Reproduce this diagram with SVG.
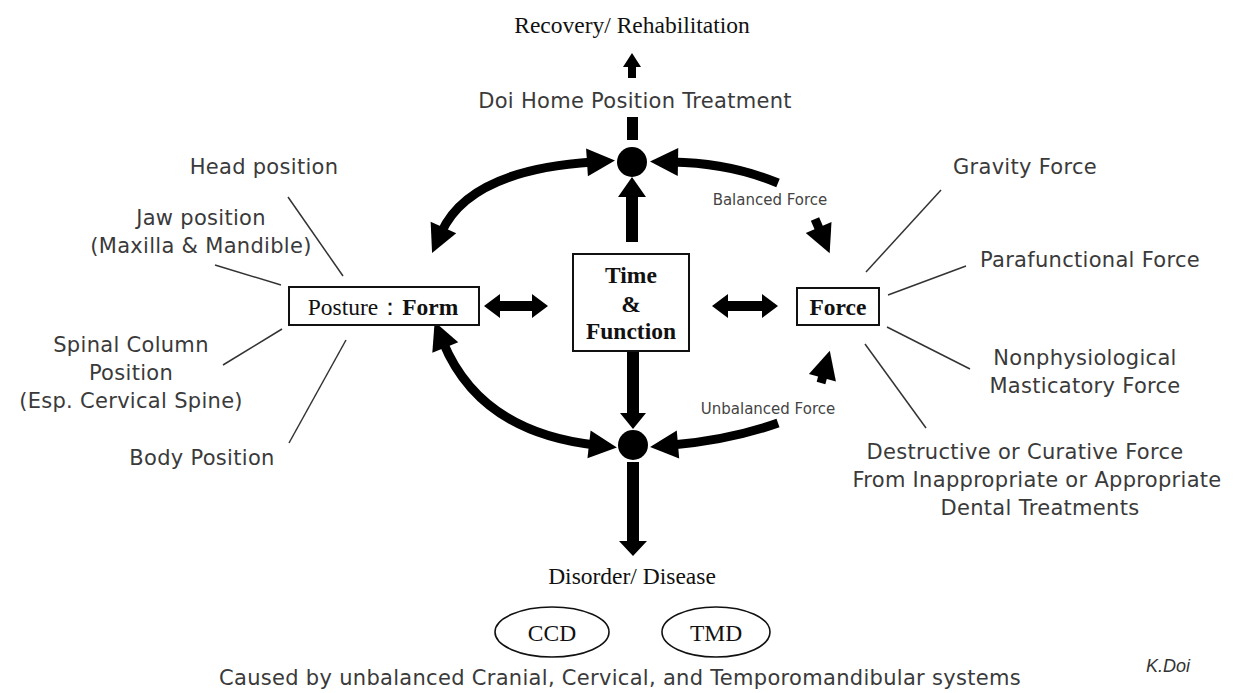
<svg xmlns="http://www.w3.org/2000/svg" width="1234" height="693" viewBox="0 0 1234 693">
<style>
.sans{font-family:"DejaVu Sans","Noto Sans",sans-serif;font-size:21px;letter-spacing:0.3px;fill:#3a3a3a;text-anchor:middle}
.small{font-family:"DejaVu Sans","Noto Sans",sans-serif;font-size:15px;fill:#444;text-anchor:middle}
.serif{font-family:"Liberation Serif","Times New Roman",serif;font-size:23.5px;fill:#111;text-anchor:middle}
.bold{font-weight:bold}
.box{fill:#fff;stroke:#111;stroke-width:2}
.ell{fill:#fff;stroke:#111;stroke-width:1.6}
.lead{stroke:#333;stroke-width:1.5;fill:none}
.arc{stroke:#000;stroke-width:9;fill:none}
.solid{fill:#000}
</style>
<defs>
<marker id="ah" markerUnits="userSpaceOnUse" viewBox="0 -15 30 30" refX="6" refY="0" markerWidth="30" markerHeight="30" orient="auto-start-reverse" overflow="visible">
<path d="M0,-14 L28,0 L0,14 z" fill="#000"/>
</marker>
</defs>

<g id="connectors">
<polygon class="solid" points="632,53 641,67 636,67 636,78 628,78 628,67 623,67"/>
<rect class="solid" x="627" y="117" width="11" height="23"/>
<polygon class="solid" points="632,177 646,197 638,197 638,242 626,242 626,197 618,197"/>
<path class="arc" d="M593,162 Q469,170 441,233" marker-start="url(#ah)" marker-end="url(#ah)"/>
<path class="arc" d="M778,183 Q730,163 672,162" marker-end="url(#ah)" stroke-width="8"/>
<path class="arc" d="M815,219 L821,233" marker-end="url(#ah)"/>
<polygon class="solid" points="484,306 500,294 500,301 532,301 532,294 548,306 532,318 532,311 500,311 500,318"/>
<polygon class="solid" points="712,306 728,294 728,301 762,301 762,294 778,306 762,318 762,311 728,311 728,318"/>
<polygon class="solid" points="627,352 639,352 639,413 646,413 633,429 620,413 627,413"/>
<path class="arc" d="M443,342 Q480,432 595,445" marker-start="url(#ah)" marker-end="url(#ah)"/>
<path class="arc" d="M778,423 Q730,440 672,445" marker-end="url(#ah)" stroke-width="8"/>
<path class="arc" d="M821,383 L824,372" marker-end="url(#ah)"/>
<polygon class="solid" points="627,462 639,462 639,541 647,541 633,556 619,541 627,541"/>
<line class="lead" x1="288" y1="197" x2="343" y2="276"/>
<line class="lead" x1="215" y1="265" x2="281" y2="285"/>
<line class="lead" x1="223" y1="365" x2="282" y2="329"/>
<line class="lead" x1="289" y1="443" x2="346" y2="340"/>
<line class="lead" x1="941" y1="190" x2="866" y2="272"/>
<line class="lead" x1="966" y1="266" x2="888" y2="295"/>
<line class="lead" x1="970" y1="369" x2="887" y2="327"/>
<line class="lead" x1="926" y1="428" x2="865" y2="344"/>
</g>

<g id="circle-top"><circle cx="632" cy="162" r="15" fill="#000"/></g>
<g id="circle-bottom"><circle cx="633" cy="445" r="15" fill="#000"/></g>

<g id="recovery"><text class="serif" x="632" y="33">Recovery/ Rehabilitation</text></g>
<g id="doi-home"><text class="sans" x="635" y="108">Doi Home Position Treatment</text></g>

<g id="posture">
<rect class="box" x="289" y="287" width="190" height="38"/>
<text class="serif" x="383" y="315" font-size="24.5">Posture：<tspan class="bold">Form</tspan></text>
</g>
<g id="time-function">
<rect class="box" x="573" y="254" width="116" height="97"/>
<text class="serif bold" x="631" y="283" font-size="25">Time</text>
<text class="serif bold" x="631" y="312" font-size="25">&amp;</text>
<text class="serif bold" x="631" y="339" font-size="25">Function</text>
</g>
<g id="force">
<rect class="box" x="797" y="288" width="82" height="37"/>
<text class="serif bold" x="838" y="315" font-size="24">Force</text>
</g>

<g id="balanced-label"><text class="small" x="770" y="205">Balanced Force</text></g>
<g id="unbalanced-label"><text class="small" x="768" y="414">Unbalanced Force</text></g>

<g id="head-position"><text class="sans" x="264" y="174">Head position</text></g>
<g id="jaw-position">
<text class="sans" x="201" y="225">Jaw position</text>
<text class="sans" x="201" y="253">(Maxilla &amp; Mandible)</text>
</g>
<g id="spinal-position">
<text class="sans" x="131" y="352">Spinal Column</text>
<text class="sans" x="131" y="380">Position</text>
<text class="sans" x="131" y="408">(Esp. Cervical Spine)</text>
</g>
<g id="body-position"><text class="sans" x="202" y="465">Body Position</text></g>

<g id="gravity"><text class="sans" x="1025" y="174">Gravity Force</text></g>
<g id="parafunctional"><text class="sans" x="1090" y="267">Parafunctional Force</text></g>
<g id="nonphysiological">
<text class="sans" x="1085" y="365">Nonphysiological</text>
<text class="sans" x="1085" y="393">Masticatory Force</text>
</g>
<g id="destructive">
<text class="sans" x="1025" y="459">Destructive or Curative Force</text>
<text class="sans" x="1037" y="487">From Inappropriate or Appropriate</text>
<text class="sans" x="1040" y="515">Dental Treatments</text>
</g>

<g id="disorder"><text class="serif" x="632" y="584">Disorder/ Disease</text></g>
<g id="ccd">
<ellipse class="ell" cx="552" cy="632" rx="57" ry="25"/>
<text class="serif" x="552" y="641" font-size="22">CCD</text>
</g>
<g id="tmd">
<ellipse class="ell" cx="716" cy="632" rx="54" ry="25"/>
<text class="serif" x="716" y="641" font-size="22">TMD</text>
</g>
<g id="caption"><text class="sans" x="620" y="685">Caused by unbalanced Cranial, Cervical, and Temporomandibular systems</text></g>
<g id="signature"><text x="1168" y="672" font-family="Liberation Sans, sans-serif" font-style="italic" font-size="18" fill="#333" text-anchor="middle">K.Doi</text></g>
</svg>
